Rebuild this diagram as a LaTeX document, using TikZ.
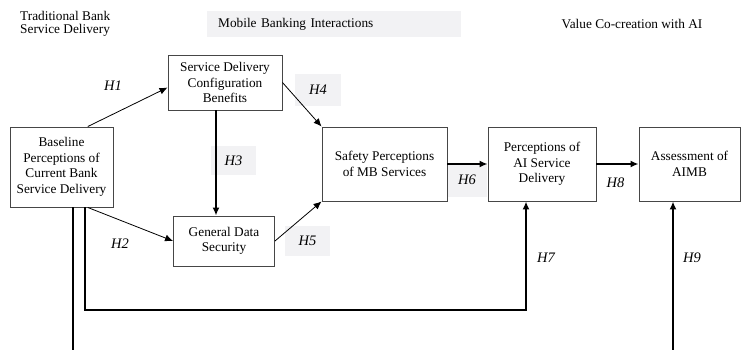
\documentclass[tikz,border=0pt]{standalone}
\usepackage{fontspec}
\setmainfont{Liberation Serif}
\usetikzlibrary{arrows.meta}
\definecolor{shade}{RGB}{242,242,244}
\definecolor{boxline}{RGB}{70,70,70}
\begin{document}
\begin{tikzpicture}[x=1pt,y=-1pt,>={Latex[length=8pt,width=7pt]},line join=miter,
	font=\fontsize{13.3}{15.5}\selectfont,
	cbox/.style={draw=boxline,line width=0.95pt,align=center,inner sep=0pt},
	hlab/.style={font=\fontsize{14.5}{16}\selectfont\itshape,inner sep=0pt},
	hshade/.style={hlab,fill=shade},
	thinarr/.style={->,line width=0.8pt},
	thickarr/.style={->,line width=1.8pt}]
	\useasboundingbox (0,0) rectangle (743,350);
	\node[anchor=north west,align=left,inner sep=0pt,font=\fontsize{13.3}{13.5}\selectfont] (trad) at (20,11) {Traditional Bank\\Service Delivery};
	\node[fill=shade,anchor=west,text width=232pt,inner xsep=11pt,inner ysep=0pt,minimum height=26pt,align=left] (mbi) at (207,24) {Mobile Banking Interactions};
	\node (value) at (632,24) {Value Co-creation with AI};
	\node[hshade,minimum width=45pt,minimum height=29pt] (h3) at (233.5,160.5) {H3};
	\node[hshade,minimum width=46pt,minimum height=32pt] (h4) at (318,90) {H4};
	\node[hshade,minimum width=45pt,minimum height=30pt] (h5) at (307.5,241) {H5};
	\node[hshade,minimum width=40pt,minimum height=34pt] (h6) at (467,180) {H6};
	\node[cbox,minimum width=114pt,minimum height=55pt] (sdc) at (225,82.5) {Service Delivery\\Configuration\\Benefits};
	\node[cbox,minimum width=103pt,minimum height=80pt] (base) at (61.5,167) {Baseline\\Perceptions of\\Current Bank\\Service Delivery};
	\node[cbox,minimum width=101pt,minimum height=50pt] (gds) at (224,241) {General Data\\Security};
	\node[cbox,minimum width=125pt,minimum height=74pt] (safe) at (384.5,164) {Safety Perceptions\\of MB Services};
	\node[cbox,minimum width=108pt,minimum height=74pt] (pai) at (542,164) {Perceptions of\\AI Service\\Delivery};
	\node[cbox,minimum width=101pt,minimum height=74pt] (aimb) at (689.5,164) {Assessment of\\AIMB};
	\node[hlab] (h1) at (113,86) {H1};
	\node[hlab] (h2) at (120,244) {H2};
	\node[hlab] (h7) at (546,258) {H7};
	\node[hlab] (h8) at (615.5,183) {H8};
	\node[hlab] (h9) at (692,258) {H9};
	\coordinate (h7turn) at (85,310);
	\coordinate (h9foot) at (73,350);
	\coordinate (h9end) at (673,350);
	\draw[thinarr] (base.57) -- (sdc.185);
	\draw[thinarr] (base.-57) -- (gds.west);
	\draw[thickarr] ([xshift=-9pt]sdc.south) -- ([xshift=-8pt]gds.north);
	\draw[thinarr] (sdc.east) -- (safe.north west);
	\draw[thinarr] (gds.east) -- (safe.south west);
	\draw[thickarr] (safe.east) -- (pai.west);
	\draw[thickarr] (pai.east) -- (aimb.west);
	\draw[thickarr] ([xshift=23.5pt]base.south) -- (h7turn) -| ([xshift=-16pt]pai.south);
	\draw[line width=1.8pt] ([xshift=11.5pt]base.south) -- (h9foot);
	\draw[thickarr] (h9end) -- ([xshift=-16.5pt]aimb.south);
\end{tikzpicture}
\end{document}
